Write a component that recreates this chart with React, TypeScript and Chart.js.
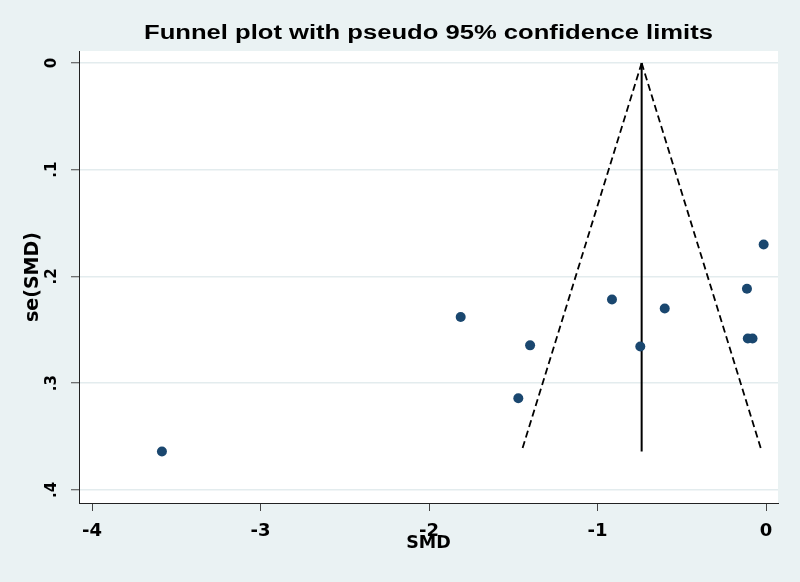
import React, { useEffect, useRef } from "react";
import { Chart, registerables } from "chart.js";

Chart.register(...registerables);

// ---- data ----
const studySMD = [-3.585, -1.812, -1.47, -1.4, -0.914, -0.746, -0.601, -0.113, -0.014, -0.108, -0.08];
const studySE = [0.364, 0.238, 0.314, 0.2645, 0.2215, 0.2655, 0.23, 0.2115, 0.17, 0.258, 0.258];
const pooledSMD = -0.738;
const funnelSE = [0, 0.364];
const funnelLeftX = [-0.738, -1.451];
const funnelRightX = [-0.738, -0.025];
const xTicks = [-4, -3, -2, -1, 0];
const xTickLabels = ["-4", "-3", "-2", "-1", "0"];
const yTicks = [0, 0.1, 0.2, 0.3, 0.4];
const yTickLabels = ["0", ".1", ".2", ".3", ".4"];
const titleText = "Funnel plot with pseudo 95% confidence limits";
const xTitle = "SMD";
const yTitle = "se(SMD)";

const FONT = "DejaVu Sans";
const TITLE_FONT = "Liberation Sans";

const decorPlugin = {
  id: "decor",
  beforeDraw(chart: any) {
    const { ctx, chartArea, width, height } = chart;
    ctx.save();
    ctx.fillStyle = "#eaf2f3";
    ctx.fillRect(0, 0, width, height);
    ctx.fillStyle = "#ffffff";
    ctx.fillRect(chartArea.left, chartArea.top, chartArea.right - chartArea.left, chartArea.bottom - chartArea.top);
    ctx.restore();
  },
  afterDraw(chart: any) {
    const { ctx, chartArea } = chart;
    const y = chart.scales.y;
    ctx.save();
    ctx.fillStyle = "#000";
    // y tick labels, rotated
    ctx.font = `bold 15px "${FONT}"`;
    ctx.textAlign = "center";
    ctx.textBaseline = "alphabetic";
    yTicks.forEach((v, i) => {
      const py = y.getPixelForValue(v);
      ctx.save();
      ctx.translate(56, py);
      ctx.rotate(-Math.PI / 2);
      ctx.fillText(yTickLabels[i], 0, 0);
      ctx.restore();
    });
    // title
    ctx.font = `bold 20px "${TITLE_FONT}"`;
    ctx.save();
    ctx.translate((chartArea.left + chartArea.right) / 2, 38.5);
    ctx.scale(1.28, 1);
    ctx.fillText(titleText, 0, 0);
    ctx.restore();
    ctx.restore();
  },
};

export default function App() {
  const ref = useRef<HTMLCanvasElement | null>(null);
  useEffect(() => {
    if (!ref.current) return;
    const chart = new Chart(ref.current, {
      type: "scatter",
      data: {
        datasets: [
          {
            label: "Studies",
            data: studySMD.map((x, i) => ({ x, y: studySE[i] })),
            backgroundColor: "#1a476f",
            borderColor: "#1a476f",
            borderWidth: 0,
            pointRadius: 5,
            showLine: false,
            order: 0,
          },
          {
            label: "Lower 95% limit",
            data: funnelSE.map((y, i) => ({ x: funnelLeftX[i], y })),
            showLine: true,
            borderColor: "#000",
            borderWidth: 1.8,
            borderDash: [7, 4],
            pointRadius: 0,
            order: 1,
          },
          {
            label: "Upper 95% limit",
            data: funnelSE.map((y, i) => ({ x: funnelRightX[i], y })),
            showLine: true,
            borderColor: "#000",
            borderWidth: 1.8,
            borderDash: [7, 4],
            pointRadius: 0,
            order: 1,
          },
          {
            label: "Pooled",
            data: funnelSE.map((y) => ({ x: pooledSMD, y })),
            showLine: true,
            borderColor: "#000",
            borderWidth: 2,
            pointRadius: 0,
            order: 1,
          },
        ],
      },
      options: {
        responsive: false,
        animation: false,
        layout: { padding: { top: 51, right: 22, left: 0, bottom: 0 } },
        plugins: {
          legend: { display: false },
          tooltip: { enabled: false },
          title: { display: false },
        },
        scales: {
          x: {
            type: "linear",
            position: "bottom",
            min: -4.0772,
            max: 0.0712,
            afterBuildTicks: (s: any) => {
              s.ticks = xTicks.map((v) => ({ value: v }));
            },
            afterFit: (s: any) => {
              s.height = 79;
            },
            ticks: {
              callback: (_v: any, i: number) => xTickLabels[i],
              font: { family: FONT, size: 18, weight: "bold" },
              color: "#000",
              padding: 10,
              maxRotation: 0,
              minRotation: 0,
              autoSkip: false,
            },
            grid: {
              drawOnChartArea: false,
              drawTicks: true,
              tickLength: 8,
              tickColor: "#444",
              color: "#444",
            },
            border: { display: true, color: "#222", width: 1 },
            title: {
              display: true,
              text: xTitle,
              font: { family: FONT, size: 17.5, weight: "bold" },
              color: "#000",
              padding: { top: 0, bottom: 28.2 },
            },
          },
          y: {
            type: "linear",
            position: "left",
            reverse: true,
            min: -0.01124,
            max: 0.41218,
            afterBuildTicks: (s: any) => {
              s.ticks = yTicks.map((v) => ({ value: v }));
            },
            afterFit: (s: any) => {
              s.width = 79;
            },
            ticks: { display: false },
            grid: {
              color: "#e3ecee",
              lineWidth: 1.5,
              drawTicks: true,
              tickLength: 8,
              tickColor: "#444",
              tickWidth: 1,
            },
            border: { display: true, color: "#222", width: 1 },
            title: {
              display: true,
              text: yTitle,
              font: { family: FONT, size: 19, weight: "bold" },
              color: "#000",
              padding: { top: 21.6, bottom: 0 },
            },
          },
        },
      },
      plugins: [decorPlugin],
    } as any);
    return () => chart.destroy();
  }, []);
  return (
    <div style={{ position: "fixed", left: 0, top: 0, width: 800, height: 582, background: "#eaf2f3" }}>
      <canvas ref={ref} width={800} height={582} style={{ width: 800, height: 582, display: "block" }} />
    </div>
  );
}
